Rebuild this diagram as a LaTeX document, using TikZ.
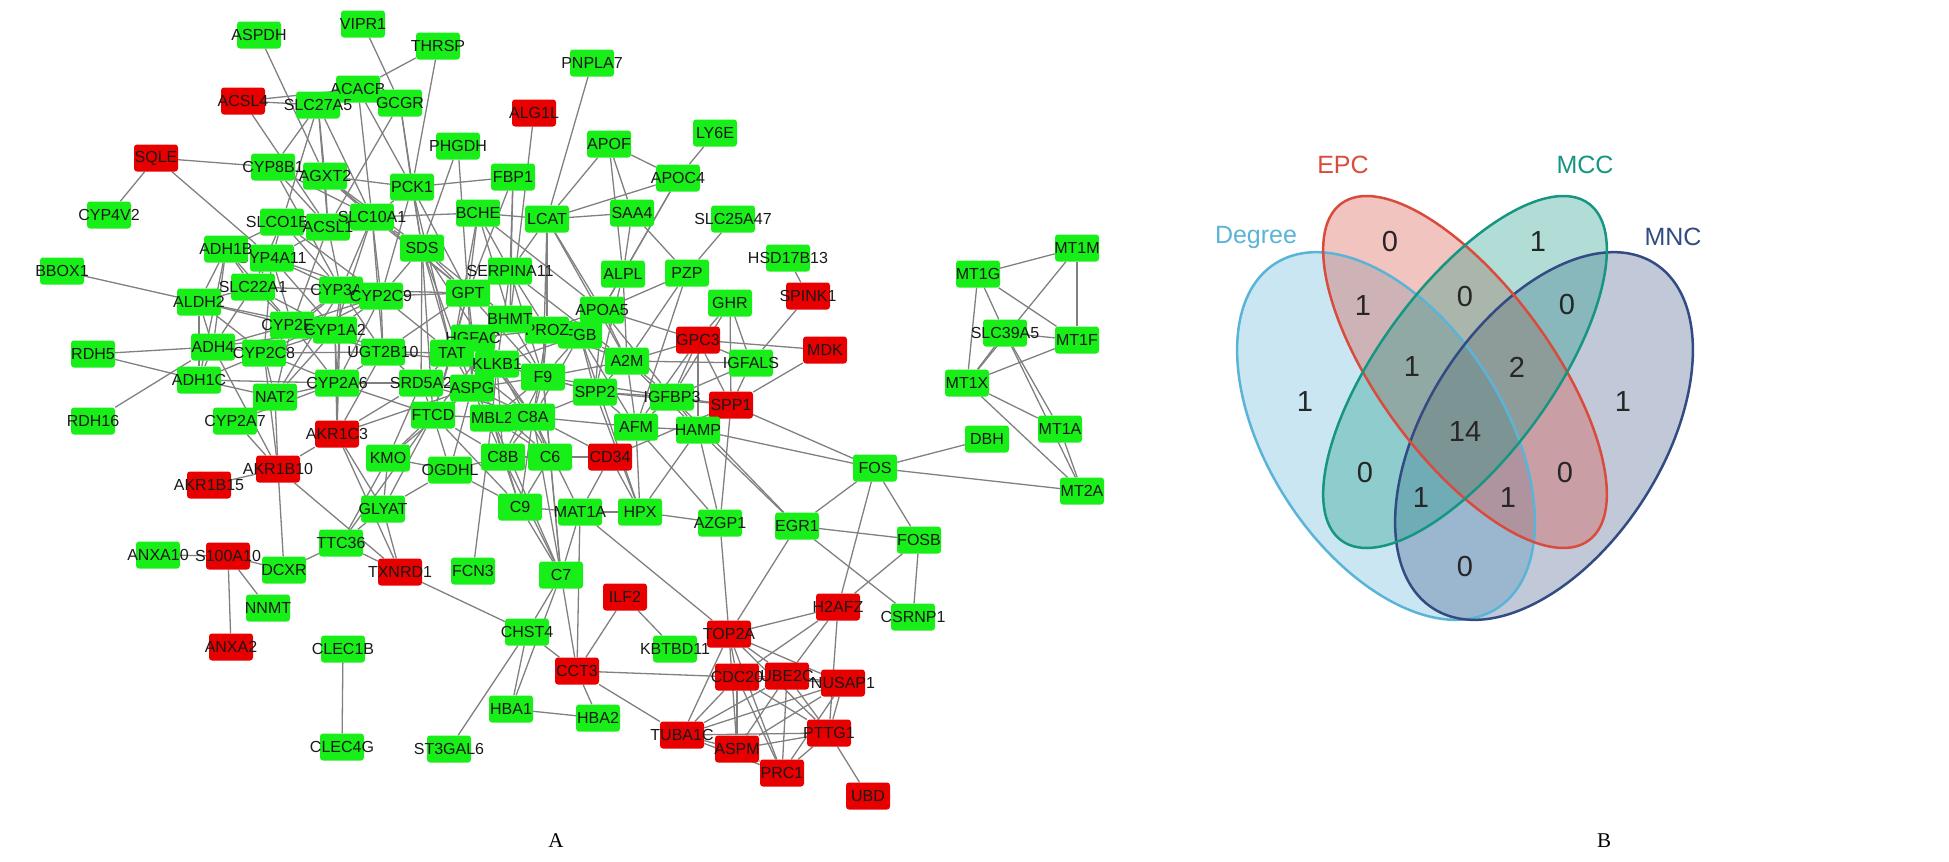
\documentclass[tikz,border=0pt]{standalone}
\usepackage{fontspec}
\setmainfont{Liberation Serif}
\newfontfamily\genefont{Liberation Sans}
\usetikzlibrary{backgrounds}
\definecolor{ngreen}{RGB}{24,238,24}
\definecolor{nred}{RGB}{232,0,0}
\definecolor{egray}{RGB}{128,128,128}
\definecolor{cdeg}{RGB}{90,180,215}
\definecolor{cepc}{RGB}{217,75,60}
\definecolor{cmcc}{RGB}{22,150,130}
\definecolor{cmnc}{RGB}{50,75,130}
\newcommand{\gl}[1]{\makebox[0pt]{#1}}
\begin{document}
\begin{tikzpicture}[x=1pt,y=-1pt,
  gn/.style={fill=ngreen, rounded corners=3pt, minimum width=44pt, minimum height=27pt, inner sep=0pt, text=black!90, font=\genefont\fontsize{16}{18}\selectfont},
  rn/.style={gn, fill=nred},
  edge/.style={draw=egray, line width=1.3pt},
  vset/.style={line width=2.5pt},
  vnum/.style={font=\genefont\fontsize{29}{32}\selectfont, text=black!85},
  vlab/.style={font=\genefont\fontsize{25}{28}\selectfont},
  panel/.style={font=\fontsize{21}{24}\selectfont}]
\useasboundingbox (0,0) rectangle (1949,862);

% ---------------- nodes ----------------
\node[gn] (ASPDH) at (259,35) {\gl{ASPDH}};
\node[gn] (VIPR1) at (363,24) {\gl{VIPR1}};
\node[gn] (THRSP) at (438,46) {\gl{THRSP}};
\node[rn] (ACSL4) at (243,101) {\gl{ACSL4}};
\node[gn] (ACACB) at (358,89) {\gl{ACACB}};
\node[gn] (SLC27A5) at (318,105) {\gl{SLC27A5}};
\node[gn] (GCGR) at (400,103) {\gl{GCGR}};
\node[gn] (PNPLA7) at (592,63) {\gl{PNPLA7}};
\node[rn] (ALG1L) at (534,113) {\gl{ALG1L}};
\node[rn] (SQLE) at (156,158) {\gl{SQLE}};
\node[gn] (CYP8B1) at (273,167) {\gl{CYP8B1}};
\node[gn] (AGXT2) at (325,176) {\gl{AGXT2}};
\node[gn] (PCK1) at (412,187) {\gl{PCK1}};
\node[gn] (PHGDH) at (458,146) {\gl{PHGDH}};
\node[gn] (FBP1) at (513,177) {\gl{FBP1}};
\node[gn] (APOF) at (609,144) {\gl{APOF}};
\node[gn] (LY6E) at (715,133) {\gl{LY6E}};
\node[gn] (APOC4) at (678,178) {\gl{APOC4}};
\node[gn] (CYP4V2) at (109,215) {\gl{CYP4V2}};
\node[gn] (SLCO1B3) at (282,222) {\gl{SLCO1B3}};
\node[gn] (ACSL1) at (328,227) {\gl{ACSL1}};
\node[gn] (SLC10A1) at (372,217) {\gl{SLC10A1}};
\node[gn] (BCHE) at (478,213) {\gl{BCHE}};
\node[gn] (LCAT) at (547,219) {\gl{LCAT}};
\node[gn] (SAA4) at (632,213) {\gl{SAA4}};
\node[gn] (SLC25A47) at (733,219) {\gl{SLC25A47}};
\node[gn] (CYP4A11) at (272,258) {\gl{CYP4A11}};
\node[gn] (ADH1B) at (226,249) {\gl{ADH1B}};
\node[gn] (SDS) at (422,248) {\gl{SDS}};
\node[gn] (HSD17B13) at (788,258) {\gl{HSD17B13}};
\node[gn] (SERPINA11) at (510,271) {\gl{SERPINA11}};
\node[gn] (ALPL) at (623,274) {\gl{ALPL}};
\node[gn] (PZP) at (687,273) {\gl{PZP}};
\node[gn] (BBOX1) at (62,271) {\gl{BBOX1}};
\node[gn] (MT1G) at (978,274) {\gl{MT1G}};
\node[gn] (MT1M) at (1077,248) {\gl{MT1M}};
\node[gn] (SLC22A1) at (253,287) {\gl{SLC22A1}};
\node[gn] (CYP3A4) at (341,290) {\gl{CYP3A4}};
\node[gn] (CYP2C9) at (381,296) {\gl{CYP2C9}};
\node[gn] (GPT) at (468,293) {\gl{GPT}};
\node[gn] (ALDH2) at (199,302) {\gl{ALDH2}};
\node[rn] (SPINK1) at (808,296) {\gl{SPINK1}};
\node[gn] (GHR) at (730,303) {\gl{GHR}};
\node[gn] (APOA5) at (602,310) {\gl{APOA5}};
\node[gn] (FGB) at (580,335) {\gl{FGB}};
\node[gn] (PROZ) at (547,330) {\gl{PROZ}};
\node[gn] (BHMT) at (510,319) {\gl{BHMT}};
\node[gn] (CYP2E1) at (292,325) {\gl{CYP2E1}};
\node[gn] (CYP1A2) at (335,330) {\gl{CYP1A2}};
\node[gn] (HGFAC) at (473,338) {\gl{HGFAC}};
\node[rn] (GPC3) at (698,340) {\gl{GPC3}};
\node[rn] (MDK) at (825,350) {\gl{MDK}};
\node[gn] (SLC39A5) at (1005,333) {\gl{SLC39A5}};
\node[gn] (MT1F) at (1077,340) {\gl{MT1F}};
\node[gn] (ADH4) at (213,347) {\gl{ADH4}};
\node[gn] (CYP2C8) at (264,353) {\gl{CYP2C8}};
\node[gn] (UGT2B10) at (383,352) {\gl{UGT2B10}};
\node[gn] (TAT) at (452,353) {\gl{TAT}};
\node[gn] (A2M) at (627,361) {\gl{A2M}};
\node[gn] (KLKB1) at (497,364) {\gl{KLKB1}};
\node[gn] (IGFALS) at (751,363) {\gl{IGFALS}};
\node[gn] (F9) at (543,377) {\gl{F9}};
\node[gn] (RDH5) at (93,354) {\gl{RDH5}};
\node[gn] (ADH1C) at (199,380) {\gl{ADH1C}};
\node[gn] (CYP2A6) at (337,383) {\gl{CYP2A6}};
\node[gn] (SRD5A2) at (421,383) {\gl{SRD5A2}};
\node[gn] (ASPG) at (472,388) {\gl{ASPG}};
\node[gn] (MT1X) at (967,383) {\gl{MT1X}};
\node[gn] (SPP2) at (595,392) {\gl{SPP2}};
\node[gn] (NAT2) at (275,397) {\gl{NAT2}};
\node[gn] (IGFBP3) at (672,397) {\gl{IGFBP3}};
\node[rn] (SPP1) at (731,405) {\gl{SPP1}};
\node[gn] (FTCD) at (433,415) {\gl{FTCD}};
\node[gn] (MBL2) at (492,418) {\gl{MBL2}};
\node[gn] (C8A) at (533,417) {\gl{C8A}};
\node[gn] (RDH16) at (93,421) {\gl{RDH16}};
\node[gn] (CYP2A7) at (235,421) {\gl{CYP2A7}};
\node[gn] (AFM) at (636,427) {\gl{AFM}};
\node[gn] (HAMP) at (698,430) {\gl{HAMP}};
\node[gn] (MT1A) at (1060,429) {\gl{MT1A}};
\node[rn] (AKR1C3) at (337,434) {\gl{AKR1C3}};
\node[gn] (DBH) at (987,439) {\gl{DBH}};
\node[gn] (KMO) at (388,458) {\gl{KMO}};
\node[gn] (C8B) at (503,457) {\gl{C8B}};
\node[gn] (C6) at (550,457) {\gl{C6}};
\node[rn] (CD34) at (610,457) {\gl{CD34}};
\node[rn] (AKR1B10) at (278,469) {\gl{AKR1B10}};
\node[gn] (OGDHL) at (450,470) {\gl{OGDHL}};
\node[gn] (FOS) at (875,468) {\gl{FOS}};
\node[rn] (AKR1B15) at (209,485) {\gl{AKR1B15}};
\node[gn] (MT2A) at (1082,491) {\gl{MT2A}};
\node[gn] (GLYAT) at (383,509) {\gl{GLYAT}};
\node[gn] (C9) at (520,507) {\gl{C9}};
\node[gn] (MAT1A) at (580,512) {\gl{MAT1A}};
\node[gn] (HPX) at (640,512) {\gl{HPX}};
\node[gn] (AZGP1) at (720,523) {\gl{AZGP1}};
\node[gn] (EGR1) at (797,526) {\gl{EGR1}};
\node[gn] (FOSB) at (919,540) {\gl{FOSB}};
\node[gn] (TTC36) at (341,543) {\gl{TTC36}};
\node[gn] (ANXA10) at (158,555) {\gl{ANXA10}};
\node[rn] (S100A10) at (228,556) {\gl{S100A10}};
\node[gn] (DCXR) at (284,570) {\gl{DCXR}};
\node[rn] (TXNRD1) at (400,572) {\gl{TXNRD1}};
\node[gn] (FCN3) at (473,571) {\gl{FCN3}};
\node[gn] (C7) at (561,575) {\gl{C7}};
\node[rn] (ILF2) at (625,597) {\gl{ILF2}};
\node[rn] (H2AFZ) at (838,607) {\gl{H2AFZ}};
\node[gn] (NNMT) at (268,608) {\gl{NNMT}};
\node[gn] (CSRNP1) at (913,617) {\gl{CSRNP1}};
\node[gn] (CHST4) at (527,632) {\gl{CHST4}};
\node[rn] (TOP2A) at (729,634) {\gl{TOP2A}};
\node[rn] (ANXA2) at (231,647) {\gl{ANXA2}};
\node[gn] (CLEC1B) at (343,649) {\gl{CLEC1B}};
\node[gn] (KBTBD11) at (675,649) {\gl{KBTBD11}};
\node[rn] (CCT3) at (577,671) {\gl{CCT3}};
\node[rn] (CDC20) at (737,677) {\gl{CDC20}};
\node[rn] (UBE2C) at (787,676) {\gl{UBE2C}};
\node[rn] (NUSAP1) at (843,683) {\gl{NUSAP1}};
\node[gn] (HBA1) at (511,709) {\gl{HBA1}};
\node[gn] (HBA2) at (598,718) {\gl{HBA2}};
\node[rn] (TUBA1C) at (682,735) {\gl{TUBA1C}};
\node[rn] (PTTG1) at (829,733) {\gl{PTTG1}};
\node[rn] (ASPM) at (737,749) {\gl{ASPM}};
\node[gn] (ST3GAL6) at (449,749) {\gl{ST3GAL6}};
\node[gn] (CLEC4G) at (342,747) {\gl{CLEC4G}};
\node[rn] (PRC1) at (782,773) {\gl{PRC1}};
\node[rn] (UBD) at (868,796) {\gl{UBD}};

% ---------------- edges ----------------
\begin{pgfonlayer}{background}
\foreach \a/\b in {ASPDH/AGXT2, VIPR1/GCGR, THRSP/ACACB, THRSP/PCK1, ACACB/GCGR,
  ACSL4/SLC27A5, ACSL4/ACACB, ACSL4/ACSL1, SLC27A5/ACACB, SLC27A5/CYP8B1, SLC27A5/AGXT2,
  SLC27A5/ACSL1, SLC27A5/SLC10A1, SLC27A5/SLCO1B3, ACACB/PCK1, ACACB/SLC10A1, GCGR/PCK1,
  GCGR/SDS, GCGR/ACSL1, SQLE/CYP8B1, SQLE/CYP4V2, SQLE/CYP4A11, CYP8B1/AGXT2, CYP8B1/SLC10A1,
  CYP8B1/ACSL1, CYP8B1/CYP3A4, AGXT2/PCK1, AGXT2/SLC10A1, AGXT2/SDS, AGXT2/GPT, AGXT2/ACSL1,
  PCK1/FBP1, PCK1/SDS, PCK1/GPT, PCK1/SLC10A1, PCK1/CYP2C9, PCK1/TAT, PHGDH/SDS, PHGDH/GPT,
  FBP1/GPT, FBP1/BHMT, FBP1/SERPINA11, ALG1L/BHMT, PNPLA7/LCAT, APOF/LCAT, APOF/SAA4,
  APOF/APOC4, APOF/ALPL, LY6E/APOC4, APOC4/LCAT, APOC4/ALPL, APOC4/APOA5, SAA4/LCAT, SAA4/PZP,
  SAA4/ALPL, SLC10A1/BCHE, BCHE/LCAT, BCHE/APOA5, BCHE/GPT, BCHE/SERPINA11, BCHE/BHMT,
  LCAT/SERPINA11, LCAT/APOA5, LCAT/A2M, LCAT/PROZ, SLC25A47/PZP, HSD17B13/SPINK1, ALPL/APOA5,
  ALPL/SPP2, ALPL/A2M, PZP/A2M, PZP/AFM, PZP/APOA5, SERPINA11/F9, SERPINA11/KLKB1,
  SERPINA11/PROZ, SERPINA11/GPT, SDS/GPT, SDS/TAT, SDS/BHMT, SDS/CYP2C9, SDS/SLC10A1, SDS/ASPG,
  SDS/FTCD, SDS/KLKB1, SDS/SRD5A2, SERPINA11/A2M, LCAT/F9, BCHE/TAT}
  \draw[edge] (\a) -- (\b);
\foreach \a/\b in {SLCO1B3/ACSL1, SLCO1B3/SLC10A1, SLCO1B3/CYP4A11, SLCO1B3/ADH1B,
  SLCO1B3/CYP3A4, SLCO1B3/SLC22A1, SLCO1B3/CYP2C9, ACSL1/SLC10A1, ACSL1/CYP4A11, ACSL1/CYP3A4,
  ACSL1/CYP2E1, SLC10A1/CYP3A4, SLC10A1/CYP2C9, SLC10A1/CYP1A2, SLC10A1/UGT2B10, SLC10A1/GPT,
  ADH1B/CYP4A11, ADH1B/ALDH2, ADH1B/ADH4, ADH1B/ADH1C, ADH1B/SLC22A1, ADH1B/CYP2E1,
  CYP4A11/CYP3A4, CYP4A11/CYP2E1, CYP4A11/CYP2C9, CYP4A11/CYP1A2, CYP4A11/SLC22A1,
  CYP4A11/CYP2C8, SLC22A1/CYP3A4, SLC22A1/CYP2E1, SLC22A1/ALDH2, SLC22A1/CYP1A2, SLC22A1/ADH4,
  CYP3A4/CYP2C9, CYP3A4/CYP2E1, CYP3A4/CYP1A2, CYP3A4/CYP2C8, CYP3A4/UGT2B10, CYP3A4/CYP2A6,
  CYP3A4/NAT2, CYP3A4/GPT, CYP3A4/AKR1C3, CYP2C9/CYP2E1, CYP2C9/CYP1A2, CYP2C9/CYP2C8,
  CYP2C9/UGT2B10, CYP2C9/CYP2A6, CYP2C9/GPT, CYP2C9/TAT, ALDH2/ADH4, ALDH2/ADH1C, ALDH2/CYP2E1,
  ALDH2/CYP2C8, ALDH2/CYP1A2, CYP2E1/CYP1A2, CYP2E1/CYP2C8, CYP2E1/ADH4, CYP2E1/UGT2B10,
  CYP2E1/CYP2A6, CYP2E1/NAT2, CYP1A2/CYP2C8, CYP1A2/UGT2B10, CYP1A2/CYP2A6, CYP1A2/NAT2,
  CYP1A2/AKR1C3, CYP1A2/ADH4, ADH4/CYP2C8, ADH4/ADH1C, ADH4/AKR1B10, CYP2C8/ADH1C,
  CYP2C8/UGT2B10, CYP2C8/CYP2A6, CYP2C8/NAT2, CYP2C8/AKR1B10, UGT2B10/CYP2A6, UGT2B10/TAT,
  UGT2B10/AKR1C3, UGT2B10/SRD5A2, UGT2B10/GPT, UGT2B10/KLKB1, ADH1C/CYP2A6, ADH1C/NAT2,
  NAT2/CYP2A6, NAT2/CYP2A7, NAT2/AKR1B10, CYP2A6/CYP2A7, CYP2A6/AKR1C3, CYP2A6/SRD5A2,
  CYP2A6/FTCD, CYP2A7/AKR1B10, RDH5/ADH4, RDH5/ADH1C, RDH16/ADH4, BBOX1/ALDH2,
  AKR1B15/AKR1B10, AKR1B10/AKR1C3, AKR1B10/TXNRD1, AKR1B10/DCXR, AKR1C3/GLYAT, AKR1C3/SRD5A2,
  AKR1C3/TXNRD1, AKR1C3/ASPG, SRD5A2/KMO, KMO/GLYAT, KMO/TTC36, KMO/FTCD, KMO/OGDHL, KMO/ASPG,
  GLYAT/TTC36, GLYAT/FTCD, GLYAT/TXNRD1, GLYAT/OGDHL, TTC36/DCXR, TTC36/TXNRD1, TTC36/FTCD,
  ANXA10/S100A10, S100A10/NNMT, S100A10/ANXA2, S100A10/DCXR, CLEC1B/CLEC4G}
  \draw[edge] (\a) -- (\b);
\foreach \a/\b in {GPT/TAT, GPT/BHMT, GPT/ASPG, GPT/FTCD, GPT/HGFAC, GPT/SERPINA11, GPT/F9,
  BHMT/PROZ, BHMT/TAT, BHMT/FTCD, BHMT/HGFAC, BHMT/F9, PROZ/FGB, PROZ/F9, PROZ/KLKB1, PROZ/C8A,
  PROZ/APOA5, PROZ/A2M, PROZ/HGFAC, FGB/A2M, FGB/F9, FGB/KLKB1, FGB/APOA5, FGB/SPP2, FGB/C8A,
  FGB/AFM, FGB/HPX, HGFAC/TAT, HGFAC/KLKB1, HGFAC/F9, HGFAC/ASPG, HGFAC/C8A, TAT/ASPG, TAT/FTCD,
  TAT/SRD5A2, TAT/KLKB1, TAT/C8A, KLKB1/F9, KLKB1/ASPG, KLKB1/MBL2, KLKB1/C8A, KLKB1/C8B,
  KLKB1/C6, KLKB1/SPP2, F9/SPP2, F9/A2M, F9/C8A, F9/MBL2, F9/C8B, F9/C6, F9/IGFBP3, F9/ASPG,
  F9/C7, SRD5A2/ASPG, SRD5A2/FTCD, SRD5A2/C8A, ASPG/FTCD, ASPG/MBL2, ASPG/C8A, ASPG/C8B,
  ASPG/OGDHL, ASPG/C6, FTCD/MBL2, FTCD/C8B, FTCD/OGDHL, FTCD/C9, MBL2/C8A, MBL2/C8B, MBL2/C6,
  MBL2/C9, MBL2/C7, C8A/C8B, C8A/C6, C8A/C9, C8A/C7, C8A/SPP2, C8A/AFM, C8A/CD34, C8B/C6,
  C8B/C9, C8B/C7, C6/C9, C6/C7, C6/CD34, C9/C7, C9/MAT1A, C9/OGDHL, OGDHL/C8B, MAT1A/HPX,
  MAT1A/CD34, MAT1A/CCT3, MAT1A/C7, MAT1A/TOP2A, MAT1A/C8A, HPX/AFM, HPX/AZGP1, HPX/CD34,
  HPX/HAMP, HPX/SPP2, APOA5/A2M, APOA5/SPP2, APOA5/GPC3, APOA5/IGFBP3, A2M/SPP2, A2M/AFM,
  A2M/IGFBP3, A2M/GPC3, A2M/IGFALS, A2M/HAMP, SPP2/IGFBP3, SPP2/AFM, SPP2/SPP1, GHR/GPC3,
  GHR/IGFALS, GHR/IGFBP3, GHR/SPP1, GPC3/IGFBP3, GPC3/IGFALS, GPC3/SPP1, GPC3/AFM, GPC3/HAMP,
  IGFALS/IGFBP3, IGFALS/SPP1, IGFALS/SPINK1, IGFBP3/SPP1, IGFBP3/HAMP, IGFBP3/AFM, SPP1/HAMP,
  SPP1/MDK, SPP1/FOS, SPP1/CD34, SPP1/AZGP1, MDK/GPC3, HAMP/AFM, HAMP/FOS, HAMP/EGR1,
  HAMP/AZGP1, AFM/AZGP1, EGR1/IGFBP3, EGR1/FOS, EGR1/FOSB, EGR1/CSRNP1, EGR1/TOP2A, FOS/DBH,
  FOS/MT2A, FOS/FOSB, FOS/H2AFZ, FOSB/H2AFZ, FOSB/CSRNP1, AZGP1/TOP2A}
  \draw[edge] (\a) -- (\b);
\foreach \a/\b in {MT1G/MT1M, MT1G/SLC39A5, MT1G/MT1F, MT1G/MT1X, MT1M/MT1F, MT1M/MT1X,
  SLC39A5/MT1F, SLC39A5/MT1X, SLC39A5/MT1A, SLC39A5/MT2A, MT1X/MT1F, MT1X/MT1A, MT1X/MT2A,
  MT1A/MT2A, TXNRD1/CHST4, FCN3/MBL2, C7/CHST4, C7/HBA1, C7/CCT3, CHST4/CCT3, CHST4/HBA1,
  CHST4/ST3GAL6, ILF2/CCT3, ILF2/KBTBD11, CCT3/CDC20, CCT3/TUBA1C, CCT3/HBA2, HBA1/HBA2,
  TOP2A/H2AFZ, CDC20/H2AFZ, UBE2C/H2AFZ, H2AFZ/PTTG1, PTTG1/UBD,
  TOP2A/CDC20, TOP2A/UBE2C, TOP2A/NUSAP1, TOP2A/PTTG1, TOP2A/PRC1, TOP2A/ASPM, TOP2A/TUBA1C,
  CDC20/UBE2C, CDC20/NUSAP1, CDC20/PTTG1, CDC20/PRC1, CDC20/ASPM, CDC20/TUBA1C,
  UBE2C/NUSAP1, UBE2C/PTTG1, UBE2C/PRC1, UBE2C/ASPM, UBE2C/TUBA1C,
  NUSAP1/PTTG1, NUSAP1/PRC1, NUSAP1/ASPM, NUSAP1/TUBA1C,
  PTTG1/PRC1, PTTG1/ASPM, PTTG1/TUBA1C, PRC1/ASPM, PRC1/TUBA1C, ASPM/TUBA1C}
  \draw[edge] (\a) -- (\b);
\end{pgfonlayer}

% ---------------- Venn ----------------
\begin{scope}[shift={(1386,436)}, rotate=-57.2]
  \fill[cdeg, fill opacity=0.33] (0,0) ellipse [x radius=205pt, y radius=118pt];
\end{scope}
\begin{scope}[shift={(1544,436)}, rotate=57.2]
  \fill[cmnc, fill opacity=0.3] (0,0) ellipse [x radius=205pt, y radius=118pt];
\end{scope}
\begin{scope}[shift={(1465,372)}, rotate=-53.7]
  \fill[cepc, fill opacity=0.33] (0,0) ellipse [x radius=209pt, y radius=86pt];
\end{scope}
\begin{scope}[shift={(1465,372)}, rotate=53.7]
  \fill[cmcc, fill opacity=0.33] (0,0) ellipse [x radius=209pt, y radius=86pt];
\end{scope}
\begin{scope}[shift={(1386,436)}, rotate=-57.2]
  \draw[cdeg, vset] (0,0) ellipse [x radius=205pt, y radius=118pt];
\end{scope}
\begin{scope}[shift={(1544,436)}, rotate=57.2]
  \draw[cmnc, vset] (0,0) ellipse [x radius=205pt, y radius=118pt];
\end{scope}
\begin{scope}[shift={(1465,372)}, rotate=-53.7]
  \draw[cepc, vset] (0,0) ellipse [x radius=209pt, y radius=86pt];
\end{scope}
\begin{scope}[shift={(1465,372)}, rotate=53.7]
  \draw[cmcc, vset] (0,0) ellipse [x radius=209pt, y radius=86pt];
\end{scope}

\node[vlab, text=cdeg] (Ldeg) at (1256,237) {Degree};
\node[vlab, text=cepc] (Lepc) at (1343,165) {EPC};
\node[vlab, text=cmcc] (Lmcc) at (1585,165) {MCC};
\node[vlab, text=cmnc] (Lmnc) at (1673,237) {MNC};

\node[vnum] (n1) at (1390,242) {0};
\node[vnum] (n2) at (1538,242) {1};
\node[vnum] (n3) at (1363,306) {1};
\node[vnum] (n4) at (1465,297) {0};
\node[vnum] (n5) at (1567,305) {0};
\node[vnum] (n6) at (1305,402) {1};
\node[vnum] (n7) at (1412,367) {1};
\node[vnum] (n8) at (1517,367) {2};
\node[vnum] (n9) at (1623,402) {1};
\node[vnum] (n10) at (1465,432) {14};
\node[vnum] (n11) at (1365,473) {0};
\node[vnum] (n12) at (1565,473) {0};
\node[vnum] (n13) at (1421,498) {1};
\node[vnum] (n14) at (1508,498) {1};
\node[vnum] (n15) at (1465,567) {0};

\node[panel] (pA) at (556,841) {A};
\node[panel] (pB) at (1604,841) {B};
\end{tikzpicture}
\end{document}
